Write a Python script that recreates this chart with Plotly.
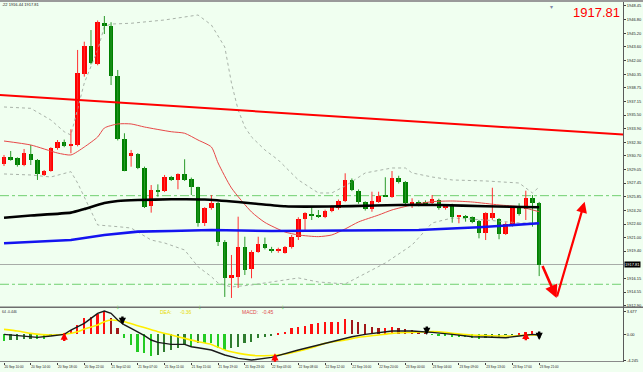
import plotly.graph_objects as go

# ---------------- data ----------------
idx = list(range(81))
open_p = [1929.71, 1930.50, 1930.39, 1929.59, 1930.89, 1930.18, 1928.41, 1928.88, 1931.57, 1932.28,
          1931.88, 1931.96, 1940.37, 1943.72, 1941.55, 1946.44, 1946.08, 1940.16, 1932.64, 1930.66,
          1930.89, 1929.27, 1924.74, 1926.63, 1926.51, 1928.14, 1927.82, 1928.53, 1927.94, 1926.95,
          1922.76, 1924.47, 1925.06, 1920.51, 1916.21, 1916.30, 1919.92, 1917.25, 1919.33, 1920.24,
          1919.65, 1919.45, 1919.21, 1919.85, 1921.10, 1923.16, 1923.79, 1923.71, 1923.47, 1924.11,
          1924.47, 1925.33, 1927.82, 1926.55, 1925.18, 1924.38, 1925.25, 1925.92, 1925.84, 1928.02,
          1927.54, 1925.06, 1925.25, 1925.25, 1925.06, 1925.45, 1924.47, 1924.86, 1923.47, 1923.47,
          1923.40, 1922.96, 1921.51, 1923.28, 1923.20, 1921.42, 1922.49, 1924.54, 1924.35, 1925.65,
          1925.13]
high_p = [1930.78, 1931.25, 1930.50, 1931.49, 1931.96, 1930.30, 1929.00, 1931.70, 1932.55, 1932.60,
          1933.82, 1943.21, 1944.19, 1945.57, 1946.70, 1947.23, 1946.49, 1940.84, 1933.35, 1931.37,
          1931.00, 1929.40, 1927.22, 1927.30, 1928.41, 1928.30, 1928.60, 1930.27, 1928.10, 1927.02,
          1924.60, 1926.04, 1925.20, 1920.70, 1918.94, 1923.47, 1921.10, 1919.50, 1921.10, 1921.00,
          1919.90, 1919.80, 1920.00, 1921.30, 1923.40, 1924.00, 1924.66, 1924.26, 1924.30, 1924.80,
          1925.50, 1928.61, 1928.00, 1926.70, 1925.30, 1926.43, 1926.43, 1928.14, 1928.88, 1928.32,
          1927.70, 1925.65, 1925.40, 1925.40, 1926.04, 1925.60, 1924.90, 1925.00, 1923.67, 1923.67,
          1923.50, 1923.10, 1924.00, 1926.90, 1923.30, 1922.80, 1924.70, 1925.06, 1926.55, 1926.04,
          1925.22]
low_p = [1929.47, 1930.10, 1929.40, 1929.45, 1929.59, 1927.82, 1928.29, 1928.80, 1931.40, 1931.70,
         1930.98, 1931.80, 1940.05, 1941.50, 1941.40, 1945.10, 1939.06, 1932.50, 1928.85, 1929.39,
         1929.10, 1924.50, 1923.95, 1925.84, 1926.39, 1927.70, 1926.72, 1927.70, 1926.04, 1922.29,
         1922.37, 1924.30, 1920.00, 1913.97, 1913.85, 1915.03, 1916.57, 1916.18, 1919.20, 1919.60,
         1919.20, 1919.20, 1919.10, 1919.70, 1920.71, 1921.90, 1923.08, 1923.32, 1923.30, 1924.00,
         1924.30, 1925.20, 1926.50, 1925.00, 1924.20, 1924.06, 1925.10, 1925.80, 1925.70, 1927.40,
         1924.90, 1924.50, 1924.70, 1924.90, 1924.90, 1924.30, 1924.30, 1922.76, 1922.69, 1922.88,
         1922.70, 1920.91, 1920.71, 1923.10, 1920.80, 1921.30, 1922.30, 1923.60, 1923.08, 1922.29,
         1916.44]
close_p = [1930.50, 1930.30, 1929.59, 1930.98, 1930.18, 1928.53, 1928.88, 1931.57, 1932.35, 1931.88,
           1932.04, 1940.48, 1943.72, 1941.63, 1946.49, 1946.08, 1940.16, 1932.64, 1928.92, 1931.01,
           1929.20, 1924.66, 1926.63, 1926.51, 1928.14, 1927.82, 1928.53, 1927.82, 1926.95, 1922.76,
           1924.47, 1925.06, 1920.51, 1916.18, 1916.57, 1919.92, 1917.16, 1919.33, 1920.24, 1919.73,
           1919.45, 1919.61, 1919.85, 1921.10, 1923.24, 1923.87, 1923.64, 1923.55, 1924.18, 1924.66,
           1925.33, 1927.82, 1926.63, 1925.18, 1924.38, 1925.33, 1925.92, 1925.84, 1928.02, 1927.54,
           1925.06, 1925.25, 1924.86, 1925.06, 1925.53, 1924.47, 1924.74, 1923.47, 1923.55, 1923.35,
           1922.88, 1921.51, 1923.87, 1923.95, 1921.42, 1922.61, 1924.54, 1923.79, 1925.72, 1925.13,
           1917.81]

ma_black_x = [0, 4, 10, 12, 15, 17, 20, 25, 30, 35, 38, 42, 45, 52, 59, 65, 72, 80]
ma_black = [1923.35, 1923.61, 1923.95, 1924.38, 1925.09, 1925.33, 1925.45, 1925.53, 1925.51, 1925.21,
            1924.98, 1924.70, 1924.66, 1924.72, 1924.86, 1924.86, 1924.70, 1924.59]
ma_blue_x = [0, 10, 15, 20, 25, 31, 40, 49, 62, 71, 77, 80]
ma_blue = [1920.32, 1920.71, 1921.31, 1921.70, 1921.78, 1921.90, 1921.78, 1921.82, 1921.90, 1922.22,
           1922.49, 1922.69]
ma_red_x = [0, 4, 8, 10, 12, 14, 15, 17, 19, 21, 25, 27, 29, 31, 32, 34, 37, 39, 42, 44, 47, 49, 51,
            53, 56, 58, 61, 64, 67, 70, 74, 77, 79, 80]
ma_red = [1932.43, 1931.96, 1931.01, 1930.78, 1931.72, 1932.91, 1933.97, 1934.45, 1934.45, 1934.09,
          1933.53, 1933.35, 1932.55, 1931.72, 1929.83, 1926.87, 1924.03, 1922.79, 1921.66, 1921.31,
          1921.11, 1921.31, 1922.02, 1922.85, 1923.67, 1924.27, 1924.86, 1925.25, 1925.33, 1925.21,
          1924.86, 1924.66, 1924.27, 1924.06]
bb_up_x = [0, 4, 7, 9, 10, 12, 14, 15, 16, 19, 24, 29, 31, 33, 34, 35, 36, 37, 39, 41, 44, 47, 49, 51,
           54, 58, 60, 61, 64, 67, 72, 77, 79, 80]
bb_up = [1936.46, 1936.30, 1934.92, 1933.53, 1933.14, 1939.30, 1943.21, 1945.96, 1946.28, 1946.37,
         1946.76, 1947.35, 1946.17, 1943.56, 1939.30, 1936.10, 1934.09, 1932.91, 1931.37, 1930.18,
         1927.82, 1926.28, 1926.28, 1927.11, 1928.65, 1929.24, 1929.24, 1928.65, 1928.17, 1927.82,
         1927.70, 1927.46, 1926.28, 1926.99]
bb_lo_x = [0, 4, 7, 10, 11, 13, 14, 17, 19, 22, 24, 27, 29, 31, 32, 34, 37, 42, 44, 47, 51, 55, 57,
           61, 64, 67, 72, 77, 80]
bb_lo = [1928.53, 1928.41, 1928.17, 1928.80, 1927.46, 1924.27, 1922.49, 1922.29, 1922.13, 1920.71,
         1920.36, 1919.53, 1917.55, 1916.37, 1915.62, 1915.15, 1915.39, 1915.98, 1916.22, 1915.74,
         1915.51, 1917.16, 1917.99, 1920.12, 1922.73, 1923.32, 1923.08, 1922.73, 1922.73]

trend_x = [-1, 93]
trend_y = [1937.90, 1933.17]
level_hi = 1925.96
level_lo = 1915.47
last_price = 1917.81
pred_x = [80.4, 82.6, 86.8]
pred_y = [1917.81, 1913.85, 1925.25]

price_ticks = [1948.45, 1946.80, 1945.20, 1943.60, 1942.00, 1940.35, 1938.75, 1937.15, 1935.50,
               1933.90, 1932.30, 1930.70, 1929.05, 1927.45, 1925.85, 1924.20, 1922.60, 1921.00,
               1919.40, 1916.15, 1914.55, 1912.90]
price_tick_text = ["%.2f" % v for v in price_ticks]

macd_hist = [-1.04, -0.98, -0.93, -0.82, -0.71, -0.71, -0.71, -0.20, -0.10, 0.20,
             0.70, 1.52, 2.60, 2.88, 3.26, 3.69, 2.60, 1.08, -0.66, -1.74,
             -2.83, -3.10, -3.48, -3.37, -2.83, -2.56, -2.18, -1.74, -2.01, -1.47,
             -1.47, -1.47, -2.29, -2.56, -2.29, -2.02, -1.47, -1.20, -0.66, -0.49,
             -0.22, 0.16, 0.43, 0.97, 1.24, 1.41, 1.63, 1.79, 1.95, 2.06,
             2.06, 2.49, 2.33, 1.95, 1.63, 1.24, 0.97, 1.08, 1.24, 1.08,
             0.86, 0.70, 0.54, 0.43, -0.05, -0.22, -0.28, -0.39, -0.49, -0.49,
             -0.66, -0.77, -0.66, -0.49, -0.39, -0.11, -0.06, 0.10, 0.30, 0.60,
             0.05]
macd_x = [0, 2, 5, 7, 9, 10, 12, 13, 14, 15, 16, 17, 18, 19, 20, 21, 22, 23, 24, 25, 27, 28, 29, 31,
          33, 35, 37, 40, 44, 47, 50, 52, 54, 56, 58, 61, 63, 64, 67, 70, 72, 75, 77, 78, 79, 80]
macd_line = [-0.01, -0.22, -0.49, -0.28, 0.00, 0.70, 1.79, 2.60, 3.42, 3.80, 3.42, 2.33, 1.52, 0.97,
             0.43, -0.22, -0.93, -1.31, -1.47, -1.63, -1.63, -2.02, -2.18, -2.56, -3.37, -3.91, -4.19,
             -3.75, -2.56, -1.74, -0.93, -0.39, 0.00, 0.32, 0.54, 0.54, 0.43, 0.32, 0.00, -0.39, -0.44,
             -0.55, -0.28, -0.11, 0.00, -0.11]
sig_x = [0, 2, 4, 7, 9, 11, 12, 14, 15, 16, 18, 20, 23, 25, 27, 29, 31, 33, 36, 38, 41, 43, 46, 48,
         51, 53, 56, 58, 61, 63, 65, 67, 70, 73, 76, 78, 80]
sig_line = [0.81, 0.54, 0.16, -0.11, 0.00, 0.43, 0.86, 1.52, 2.06, 2.33, 2.06, 1.41, 0.43, -0.11,
            -0.66, -1.20, -1.64, -2.56, -3.27, -3.48, -3.38, -2.99, -2.18, -1.47, -0.93, -0.49, -0.11,
            0.16, 0.32, 0.43, 0.43, 0.16, -0.11, -0.22, -0.28, -0.11, -0.11]
cross_up_x = [9, 40.5, 78]
cross_up_y = [0.30, -3.10, 0.42]
cross_dn_x = [17.7, 63.2, 80]
cross_dn_y = [1.52, -0.10, -0.93]
sig_arrow_x = [17.1, 29.3, 41.7]
macd_ticks = [3.677, 0.0, -4.245]
macd_tick_text = ["3.677", "0.00", "-4.245"]

time_tick_idx = list(range(0, 81, 4))
time_tick_text = ["20 Sep 10:00", "20 Sep 14:00", "20 Sep 18:00", "20 Sep 22:00", "21 Sep 02:00",
                  "21 Sep 07:00", "21 Sep 11:00", "21 Sep 15:00", "21 Sep 19:00", "21 Sep 23:00",
                  "22 Sep 03:00", "22 Sep 08:00", "22 Sep 12:00", "22 Sep 16:00", "22 Sep 20:00",
                  "23 Sep 00:00", "23 Sep 04:00", "23 Sep 09:00", "23 Sep 13:00", "23 Sep 17:00",
                  "23 Sep 21:00"]

# ---------------- layout geometry ----------------
W, H = 643, 372
BOTTOM = 362          # bottom of plotting area (px)
PLOT_R = 623          # right edge of chart panels (px)
MAIN_BOTTOM = 307
MACD_TOP = 308
BG = "#F0FFF0"
FONT = "Liberation Sans, Arial, sans-serif"


def py(p):
    return (BOTTOM - p) / BOTTOM


def px(p):
    return p / W


fig = go.Figure()

# Bollinger bands
for xs, ys in ((bb_up_x, bb_up), (bb_lo_x, bb_lo)):
    fig.add_trace(go.Scatter(x=xs, y=ys, mode="lines", xaxis="x", yaxis="y",
                             line=dict(color="#A9B3A9", width=1, dash="dot"), hoverinfo="skip"))

# candles: wicks
up = [c >= o for o, c in zip(open_p, close_p)]
for flag, col in ((True, "#FF3030"), (False, "#2A9A2A")):
    wx, wy = [], []
    for i, h, l, u in zip(idx, high_p, low_p, up):
        if u == flag:
            wx += [i, i, None]
            wy += [l, h, None]
    fig.add_trace(go.Scatter(x=wx, y=wy, mode="lines", xaxis="x", yaxis="y",
                             line=dict(color=col, width=1), hoverinfo="skip"))

# candles: bodies
body_base = [min(o, c) for o, c in zip(open_p, close_p)]
body_h = [max(abs(c - o), 0.13) for o, c in zip(open_p, close_p)]
body_col = ["#FF0000" if u else "#008000" for u in up]
fig.add_trace(go.Bar(x=idx, y=body_h, base=body_base, width=0.68, xaxis="x", yaxis="y",
                     marker=dict(color=body_col, line=dict(width=0)), hoverinfo="skip"))

# moving averages
fig.add_trace(go.Scatter(x=ma_red_x, y=ma_red, mode="lines", xaxis="x", yaxis="y",
                         line=dict(color="#E84848", width=1, shape="spline", smoothing=0.6),
                         hoverinfo="skip"))
fig.add_trace(go.Scatter(x=ma_blue_x, y=ma_blue, mode="lines", xaxis="x", yaxis="y",
                         line=dict(color="#1414F0", width=2.6), hoverinfo="skip"))
fig.add_trace(go.Scatter(x=ma_black_x, y=ma_black, mode="lines", xaxis="x", yaxis="y",
                         line=dict(color="#000000", width=2.6, shape="spline", smoothing=0.5),
                         hoverinfo="skip"))

# trend line
fig.add_trace(go.Scatter(x=trend_x, y=trend_y, mode="lines", xaxis="x", yaxis="y",
                         line=dict(color="#FF0000", width=2), hoverinfo="skip"))

# MACD histogram
hist_col = []
for k, v in enumerate(macd_hist):
    prev = macd_hist[k - 1] if k > 0 else v
    if v >= 0:
        hist_col.append("#FF1010" if v >= prev else "#A01818")
    else:
        hist_col.append("#22CC22" if v <= prev else "#2E7D2E")
fig.add_trace(go.Bar(x=idx, y=macd_hist, width=0.26, xaxis="x2", yaxis="y2",
                     marker=dict(color=hist_col, line=dict(width=0)), hoverinfo="skip"))
fig.add_trace(go.Scatter(x=sig_x, y=sig_line, mode="lines", xaxis="x2", yaxis="y2",
                         line=dict(color="#FFEE00", width=1.6, shape="spline", smoothing=0.5),
                         hoverinfo="skip"))
fig.add_trace(go.Scatter(x=macd_x, y=macd_line, mode="lines", xaxis="x2", yaxis="y2",
                         line=dict(color="#1A1A1A", width=1.4), hoverinfo="skip"))

shapes = []
# horizontal levels
for lv, col, dash in ((level_hi, "#70D070", "dashdot"), (level_lo, "#70D070", "dashdot"),
                      (last_price, "#A8ACA8", "solid")):
    shapes.append(dict(type="line", xref="paper", yref="y", x0=0, x1=px(PLOT_R), y0=lv, y1=lv,
                       line=dict(color=col, width=1, dash=dash), layer="below"))
# frame lines
shapes += [
    dict(type="rect", xref="paper", yref="paper", x0=0, x1=1, y0=py(2), y1=1,
         fillcolor="#9A9A9A", line=dict(width=0)),
    dict(type="rect", xref="paper", yref="paper", x0=0, x1=1, y0=py(MACD_TOP), y1=py(MAIN_BOTTOM - 0.5),
         fillcolor="#6E6E6E", line=dict(width=0)),
    dict(type="line", xref="paper", yref="paper", x0=0, x1=px(PLOT_R), y0=py(BOTTOM - 0.5), y1=py(BOTTOM - 0.5),
         line=dict(color="#8A8A8A", width=1)),
    dict(type="line", xref="paper", yref="paper", x0=px(PLOT_R + 0.5), x1=px(PLOT_R + 0.5), y0=0, y1=py(2),
         line=dict(color="#5A5A5A", width=1)),
]

ann = []
# prediction arrows
for k in range(2):
    ann.append(dict(x=pred_x[k + 1], y=pred_y[k + 1], ax=pred_x[k], ay=pred_y[k],
                    xref="x", yref="y", axref="x", ayref="y", text="", showarrow=True,
                    arrowhead=2, arrowsize=1.0, arrowwidth=2.6 if k == 0 else 2.2,
                    arrowcolor="#FF0000"))
# MACD cross arrows
for x, y in zip(cross_up_x, cross_up_y):
    ann.append(dict(x=x, y=y, xref="x2", yref="y2", ax=0, ay=10, text="", showarrow=True,
                    arrowhead=2, arrowsize=0.6, arrowwidth=2.4, arrowcolor="#FF0000"))
for x, y in zip(cross_dn_x, cross_dn_y):
    ann.append(dict(x=x, y=y, xref="x2", yref="y2", ax=0, ay=-10, text="", showarrow=True,
                    arrowhead=2, arrowsize=0.6, arrowwidth=2.4, arrowcolor="#000000"))
for x in sig_arrow_x:
    ann.append(dict(x=x, y=py(311.5), xref="x2", yref="paper", text="↓", showarrow=False,
                    font=dict(size=7, color="#66DD66", family=FONT)))

# texts
ann += [
    dict(x=px(0), y=py(4.5), xref="paper", yref="paper", text=".22 1916.44 1917.81", showarrow=False,
         xanchor="left", yanchor="middle", font=dict(size=4, color="#202020", family=FONT)),
    dict(x=px(622), y=py(12), xref="paper", yref="paper", text="1917.81", showarrow=False,
         xanchor="right", yanchor="middle", font=dict(size=13, color="#FF0000", family=FONT)),
    dict(x=px(555), y=py(2.5), xref="paper", yref="paper", text="▾", showarrow=False,
         font=dict(size=6, color="#8088A8", family=FONT)),
    dict(x=px(PLOT_R + 1), y=last_price, xref="paper", yref="y", text="1917.81", showarrow=False,
         xanchor="left", yanchor="middle", bgcolor="#000000", borderpad=0,
         font=dict(size=4, color="#FFFFFF", family=FONT)),
    dict(x=px(0), y=py(311.5), xref="paper", yref="paper", text="64 -0.446", showarrow=False,
         xanchor="left", yanchor="middle", font=dict(size=3.5, color="#303030", family=FONT)),
    dict(x=px(158), y=py(311.5), xref="paper", yref="paper", text="DEA:", showarrow=False,
         xanchor="left", yanchor="middle", font=dict(size=5, color="#E8DA00", family=FONT)),
    dict(x=px(178), y=py(311.5), xref="paper", yref="paper", text="-0.36", showarrow=False,
         xanchor="left", yanchor="middle", font=dict(size=5, color="#E8DA00", family=FONT)),
    dict(x=px(240), y=py(311.5), xref="paper", yref="paper", text="MACD:", showarrow=False,
         xanchor="left", yanchor="middle", font=dict(size=5, color="#E04848", family=FONT)),
    dict(x=px(260), y=py(311.5), xref="paper", yref="paper", text="-0.45", showarrow=False,
         xanchor="left", yanchor="middle", font=dict(size=5, color="#E04848", family=FONT)),
]

XR = [-0.6, 92.53]
fig.update_layout(
    width=W, height=H,
    margin=dict(l=0, r=0, t=0, b=H - BOTTOM, pad=0),
    paper_bgcolor=BG, plot_bgcolor=BG,
    showlegend=False, barmode="overlay", bargap=0,
    font=dict(family=FONT, size=4, color="#000000"),
    xaxis=dict(domain=[0, px(PLOT_R)], range=XR, anchor="y", showticklabels=False,
               showgrid=False, zeroline=False, showline=False, ticks=""),
    yaxis=dict(domain=[py(MAIN_BOTTOM), 1.0], range=[1912.78, 1949.125], anchor="x", side="right",
               tickmode="array", tickvals=price_ticks, ticktext=price_tick_text,
               ticks="outside", ticklen=2, tickcolor="#404040", tickwidth=1,
               tickfont=dict(size=4, color="#202020", family=FONT),
               showgrid=False, zeroline=False, showline=False, automargin=False),
    xaxis2=dict(domain=[0, px(PLOT_R)], range=XR, anchor="y2", matches="x",
                tickmode="array", tickvals=time_tick_idx, ticktext=time_tick_text,
                ticks="outside", ticklen=2, tickcolor="#404040", tickangle=0,
                ticklabelposition="outside right", ticklabelstandoff=1,
                tickfont=dict(size=3.2, color="#202020", family=FONT),
                showgrid=False, zeroline=False, showline=False, automargin=False),
    yaxis2=dict(domain=[0, py(MACD_TOP)], range=[-4.51, 4.29], anchor="x2", side="right",
                tickmode="array", tickvals=macd_ticks, ticktext=macd_tick_text,
                ticks="outside", ticklen=2, tickcolor="#404040",
                tickfont=dict(size=4, color="#202020", family=FONT),
                showgrid=False, zeroline=False, showline=False, automargin=False),
    shapes=shapes,
    annotations=ann,
)

fig.write_html("out.html", config={"displayModeBar": False},
               post_script="document.body.style.margin='0';document.body.style.padding='0';")
